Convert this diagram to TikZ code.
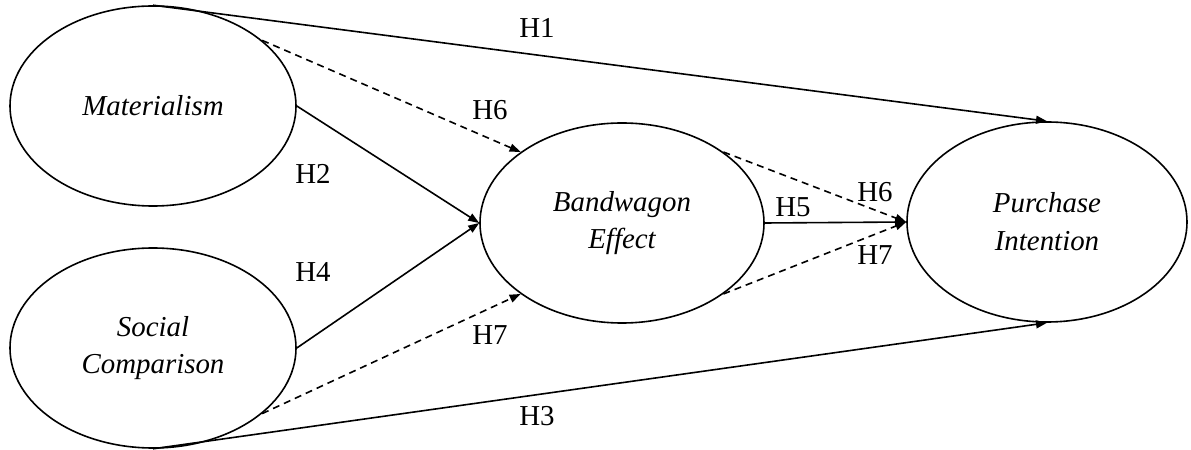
\documentclass[tikz,border=0pt]{standalone}
\usepackage{fontspec}
\setmainfont{Liberation Serif}
\usetikzlibrary{shapes.geometric,arrows.meta}
\begin{document}
\begin{tikzpicture}[x=1bp,y=-1bp,
  lv/.style={ellipse,draw,line width=1.6bp,inner sep=0pt,minimum width=286bp,minimum height=200bp,align=center,font=\fontsize{29}{38}\selectfont\itshape},
  conn/.style={line width=1.6bp,-{Triangle[length=11bp,width=8bp]}},
  dconn/.style={conn,dash pattern=on 7bp off 5bp},
  lab/.style={font=\fontsize{29}{34}\selectfont,inner sep=0pt}]
\useasboundingbox[fill=white] (0,0) rectangle (1191,450);
\node[lv] (mat) at (153,106) {Materialism};
\node[lv] (soc) at (153,348) {Social\\Comparison};
\node[lv, minimum width=284bp] (bw) at (622,223) {Bandwagon\\Effect};
\node[lv, minimum width=280bp] (pi) at (1047,222) {Purchase\\Intention};
\draw[conn] (mat.north) -- (pi.north);
\draw[conn] (soc.south) -- (pi.south);
\draw[conn] (mat.east) -- (bw.west);
\draw[conn] (soc.east) -- (bw.west);
\draw[dconn] (mat.31) -- (bw.145);
\draw[dconn] (soc.-31) -- (bw.215);
\draw[conn] (bw.east) -- (pi.west);
\draw[dconn] (bw.35) -- (pi.west);
\draw[dconn] (bw.-35) -- (pi.west);
\node[lab] (h1) at (537,28) {H1};
\node[lab] (h3) at (537,416) {H3};
\node[lab] (h6a) at (490,110) {H6};
\node[lab] (h2) at (313,174) {H2};
\node[lab] (h4) at (313,272) {H4};
\node[lab] (h7a) at (490,335) {H7};
\node[lab] (h5) at (793,207) {H5};
\node[lab] (h6b) at (875,192) {H6};
\node[lab] (h7b) at (875,255) {H7};
\end{tikzpicture}
\end{document}
